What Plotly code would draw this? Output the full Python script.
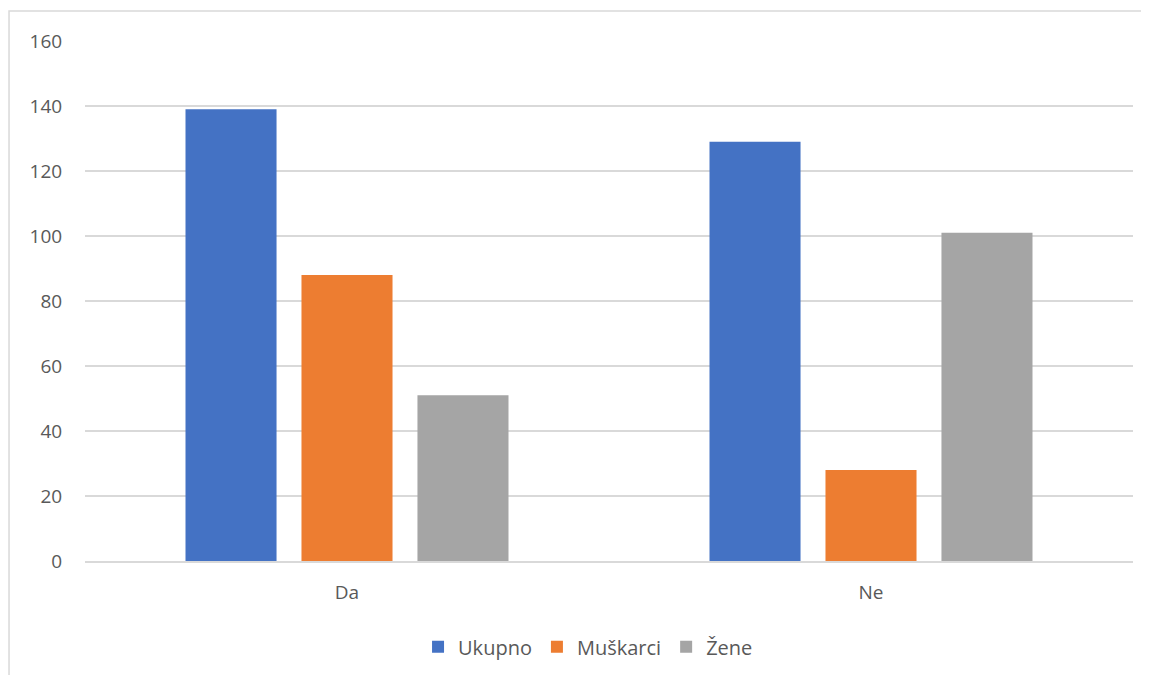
import plotly.graph_objects as go

categories = ["Da", "Ne"]
series_names = ["Ukupno", "Muškarci", "Žene"]
ukupno = [139, 129]
muskarci = [88, 28]
zene = [51, 101]
y_ticks = [0, 20, 40, 60, 80, 100, 120, 140, 160]

colors = ["#4472C4", "#ED7D31", "#A5A5A5"]
values = [ukupno, muskarci, zene]

fig = go.Figure()
for name, vals, col in zip(series_names, values, colors):
    fig.add_trace(go.Bar(x=categories, y=vals, name=name, marker=dict(color=col, line=dict(width=0))))

font_fam = "Open Sans, Liberation Sans, sans-serif"
fig.update_layout(
    width=1141, height=667,
    margin=dict(l=77, r=16, t=33, b=114, autoexpand=False),
    paper_bgcolor="white", plot_bgcolor="white",
    barmode="group", bargap=0.336, bargroupgap=0.215,
    font=dict(family=font_fam, size=19, color="#595959"),
    showlegend=True,
    legend=dict(orientation="h", x=0.48, xanchor="center", y=-0.165, yanchor="middle",
                font=dict(size=20, color="#595959"), itemwidth=30),
    xaxis=dict(showgrid=False, showline=True, linecolor="#D9D9D9", linewidth=1.5, automargin=False,
               ticks="outside", ticklen=13, tickcolor="rgba(0,0,0,0)", tickfont=dict(size=19)),
    yaxis=dict(range=[0, 160], tickvals=y_ticks, showgrid=True, gridcolor="#D9D9D9", gridwidth=1.5,
               automargin=False,
               zeroline=False, showline=False, ticks="outside", ticklen=18, tickcolor="rgba(0,0,0,0)",
               tickfont=dict(size=19)),
    shapes=[dict(type="rect", xref="paper", yref="paper", x0=-0.0725, x1=1.2, y0=-0.5, y1=1.0577,
                 line=dict(color="#D9D9D9", width=1.5), fillcolor="rgba(0,0,0,0)", layer="below")],
)

fig.write_html("out.html")
